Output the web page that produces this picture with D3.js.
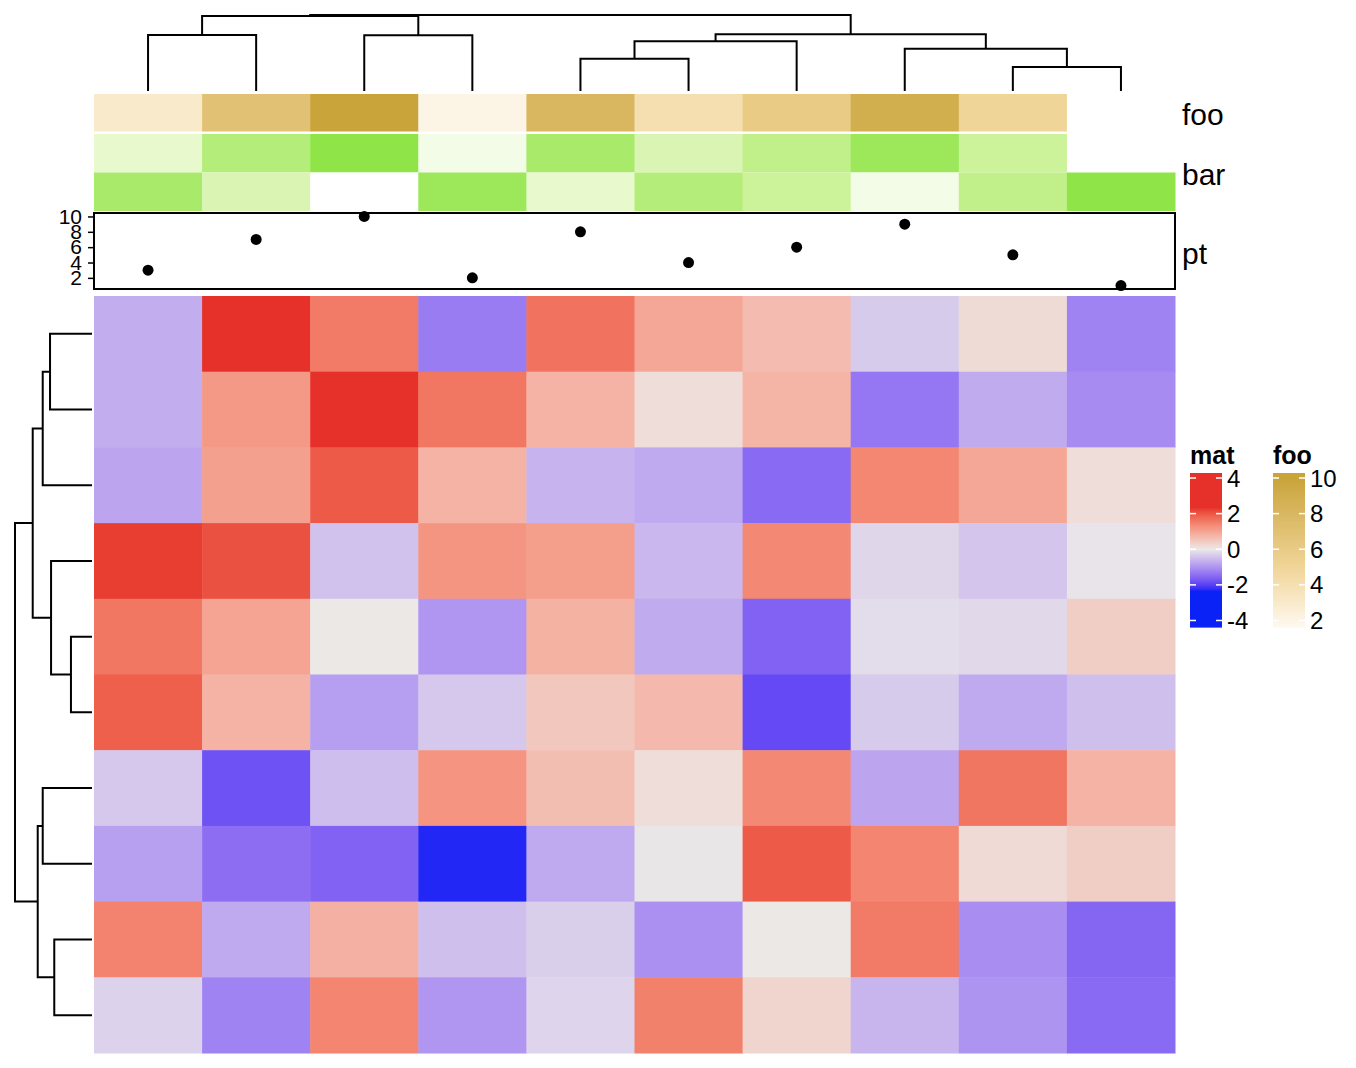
<!DOCTYPE html>
<html><head><meta charset="utf-8">
<script src="https://cdn.jsdelivr.net/npm/d3@7/dist/d3.min.js"></script>
<style>
body{margin:0;background:#fff;}
svg{display:block;font-family:"Liberation Sans",Arial,Helvetica,sans-serif;}
</style>
</head><body>
<svg id="chart" width="1356" height="1068"></svg>
<script>
// ---------------- data ----------------
const colIds = ["c1","c2","c3","c4","c5","c6","c7","c8","c9","c10"];
const rowIds = ["r1","r2","r3","r4","r5","r6","r7","r8","r9","r10"];
// matrix values (rows in displayed order, columns in displayed order)
const row1  = [-0.70, 2.80, 1.55,-1.30, 1.65, 0.95, 0.65,-0.35, 0.20,-1.20];
const row2  = [-0.70, 1.15, 2.60, 1.60, 0.78, 0.18, 0.75,-1.35,-0.72,-1.10];
const row3  = [-0.80, 1.05, 1.95, 0.78,-0.62,-0.75,-1.50, 1.40, 0.95, 0.18];
const row4  = [ 2.25, 2.05,-0.45, 1.20, 1.08,-0.58, 1.38,-0.22,-0.42,-0.06];
const row5  = [ 1.60, 1.00, 0.02,-0.98, 0.80,-0.72,-1.60,-0.15,-0.18, 0.40];
const row6  = [ 1.90, 0.78,-0.88,-0.38, 0.50, 0.70,-1.90,-0.35,-0.75,-0.48];
const row7  = [-0.38,-1.80,-0.50, 1.22, 0.62, 0.18, 1.38,-0.80, 1.62, 0.78];
const row8  = [-0.85,-1.45,-1.60,-2.30,-0.75,-0.03, 1.95, 1.42, 0.22, 0.40];
const row9  = [ 1.45,-0.75, 0.82,-0.48,-0.30,-1.05, 0.02, 1.55,-1.08,-1.55];
const row10 = [-0.26,-1.20, 1.42,-0.98,-0.24, 1.48, 0.30,-0.60,-1.00,-1.50];
const matRows = [row1,row2,row3,row4,row5,row6,row7,row8,row9,row10];

// column annotations
const foo  = [3, 7, 10, 2, 8, 4, 6, 9, 5, 1];
const bar1 = [3, 7, 10, 2, 8, 4, 6, 9, 5, 1];
const bar2 = [8, 4, 1, 9, 3, 7, 5, 2, 6, 10];
const pt   = [3, 7, 10, 2, 8, 4, 6, 9, 5, 1];

// dendrograms: hclust-style merges (negative = leaf in displayed order, positive = earlier merge), height
const colMerge = [[-1,-2,4.42],[-3,-4,4.40],[1,2,5.92],[-5,-6,2.55],[4,-7,3.92],[-9,-10,1.89],[-8,6,3.34],[5,7,4.48],[3,8,6.0]];
const rowMerge = [[-1,-2,3.27],[1,-3,3.84],[-5,-6,1.64],[-4,3,3.19],[2,4,4.62],[-7,-8,3.84],[-9,-10,2.94],[6,7,4.23],[5,8,6.0]];

// colour maps and legends
const matBreaks = [-2.35, 0, 2.35];
const matColors = ["#0A22F5", "#EBE9E8", "#E6302A"];
const fooBreaks = [1, 5, 10];
const fooColors = ["#FFFFFF", "#F0D598", "#C9A43A"];
const barBreaks = [1, 5, 10];
const barColors = ["#FFFFFF", "#CCF29A", "#8FE547"];
const matTicks  = [-4, -2, 0, 2, 4];
const fooTicks  = [2, 4, 6, 8, 10];
const ptTicks   = [2, 4, 6, 8, 10];

// ---------------- scales ----------------
const svg = d3.select("#chart");
const x = d3.scaleBand().domain(d3.range(colIds.length)).range([94, 1175]);
const y = d3.scaleBand().domain(d3.range(rowIds.length)).range([296, 1053]);

const matCol = d3.scaleLinear().domain(matBreaks).range(matColors).interpolate(d3.interpolateLab).clamp(true);
const fooCol = d3.scaleLinear().domain(fooBreaks).range(fooColors).interpolate(d3.interpolateLab).clamp(true);
const barCol = d3.scaleLinear().domain(barBreaks).range(barColors).interpolate(d3.interpolateLab).clamp(true);

// ---------------- heatmap ----------------
const cells = [];
matRows.forEach((r, i) => r.forEach((v, j) => cells.push({i, j, v})));
svg.append("g").selectAll("rect").data(cells).join("rect")
  .attr("x", d => x(d.j)).attr("y", d => y(d.i))
  .attr("width", x.bandwidth() + 0.5).attr("height", y.bandwidth() + 0.5)
  .attr("fill", d => matCol(d.v));

// ---------------- annotations ----------------
const annoRows = [
  {vals: foo,  col: fooCol, y0: 94,    y1: 131.5},
  {vals: bar1, col: barCol, y0: 134,   y1: 172.5},
  {vals: bar2, col: barCol, y0: 172.5, y1: 211}
];
annoRows.forEach(a => {
  svg.append("g").selectAll("rect").data(a.vals).join("rect")
    .attr("x", (d, j) => x(j)).attr("y", a.y0)
    .attr("width", x.bandwidth() + 0.5).attr("height", a.y1 - a.y0)
    .attr("fill", d => a.col(d));
});

// pt annotation
const ptY = d3.scaleLinear().domain([0.55, 10.45]).range([289, 213]);
svg.append("rect").attr("x", 94).attr("y", 213).attr("width", 1081).attr("height", 76)
  .attr("fill", "none").attr("stroke", "#000").attr("stroke-width", 2);
svg.append("g").selectAll("circle").data(pt).join("circle")
  .attr("cx", (d, j) => x(j) + x.bandwidth() / 2).attr("cy", d => ptY(d))
  .attr("r", 5.5).attr("fill", "#000");
const ax = svg.append("g").attr("transform", "translate(94,0)")
  .call(d3.axisLeft(ptY).tickValues(ptTicks).tickSize(6).tickPadding(6));
ax.select(".domain").remove();
ax.selectAll("line").attr("stroke", "#000").attr("stroke-width", 1.5);
ax.selectAll("text").attr("font-size", 21).attr("fill", "#000")
  .attr("font-family", "'Liberation Sans',Arial,sans-serif");

// annotation names
const names = [{t: "foo", c: 112.75}, {t: "bar", c: 172.5}, {t: "pt", c: 251}];
svg.append("g").selectAll("text").data(names).join("text")
  .attr("x", 1182).attr("y", d => d.c + 12.5)
  .attr("font-size", 30).attr("fill", "#000").text(d => d.t);

// ---------------- dendrograms ----------------
function buildTree(merge, leafPos) {
  const nodes = [];
  merge.forEach(([a, b, h]) => {
    const get = k => k < 0 ? {p: leafPos(-k - 1), h: 0} : nodes[k - 1];
    const A = get(a), B = get(b);
    nodes.push({p: (A.p + B.p) / 2, h, A, B});
  });
  return nodes;
}
// column dendrogram
const colH = d3.scaleLinear().domain([0, 6.0]).range([91, 15]);
const colNodes = buildTree(colMerge, j => x(j) + x.bandwidth() / 2);
svg.append("g").selectAll("path").data(colNodes).join("path")
  .attr("d", n => `M${n.A.p},${colH(n.A.h)}V${colH(n.h)}H${n.B.p}V${colH(n.B.h)}`)
  .attr("fill", "none").attr("stroke", "#000").attr("stroke-width", 2);
// row dendrogram
const rowH = d3.scaleLinear().domain([0, 6.0]).range([92, 15]);
const rowNodes = buildTree(rowMerge, i => y(i) + y.bandwidth() / 2);
svg.append("g").selectAll("path").data(rowNodes).join("path")
  .attr("d", n => `M${rowH(n.A.h)},${n.A.p}H${rowH(n.h)}V${n.B.p}H${rowH(n.B.h)}`)
  .attr("fill", "none").attr("stroke", "#000").attr("stroke-width", 2);

// ---------------- legends ----------------
function legend(x0, title, ly, colFn, ticks) {
  const g = svg.append("g");
  g.append("text").attr("x", x0).attr("y", 463.5).attr("font-size", 25)
    .attr("font-weight", "bold").attr("fill", "#000").text(title);
  const steps = d3.range(0, 154, 1);
  g.selectAll("rect.s").data(steps).join("rect").attr("class", "s")
    .attr("x", x0).attr("y", d => 473 + d).attr("width", 32).attr("height", 1.6)
    .attr("fill", d => colFn(ly.invert(473 + d + 0.5)));
  ticks.forEach(t => {
    const yy = ly(t);
    g.append("line").attr("x1", x0).attr("x2", x0 + 6).attr("y1", yy).attr("y2", yy)
      .attr("stroke", "#fff").attr("stroke-width", 1.5);
    g.append("line").attr("x1", x0 + 26).attr("x2", x0 + 32).attr("y1", yy).attr("y2", yy)
      .attr("stroke", "#fff").attr("stroke-width", 1.5);
    g.append("text").attr("x", x0 + 37).attr("y", yy + 8.5).attr("font-size", 24)
      .attr("fill", "#000").text(t);
  });
}
const matLegY = d3.scaleLinear().domain([-4, 4]).range([620.5, 478]);
const fooLegY = d3.scaleLinear().domain([2, 10]).range([620.5, 478]);
legend(1190, "mat", matLegY, matCol, matTicks);
legend(1273, "foo", fooLegY, fooCol, fooTicks);
</script>
</body></html>
